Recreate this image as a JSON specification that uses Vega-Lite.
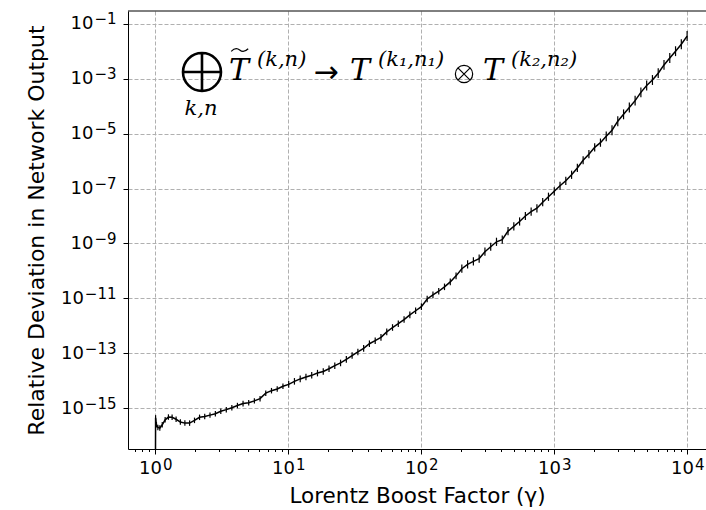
{
  "$schema": "https://vega.github.io/schema/vega-lite/v6.json",
  "width": 578,
  "height": 438,
  "autosize": {"type": "none"},
  "padding": {"left": 128, "top": 11, "right": 0, "bottom": 61},
  "background": "white",
  "config": {"view": {"stroke": null}, "font": "DejaVu Sans"},
  "datasets": {
    "dev": [
      {"gamma": 1, "dev": 1e-19, "lo": 7.9e-20, "hi": 1.26e-19},
      {"gamma": 1.005, "dev": 4.47e-16, "lo": 3.55e-16, "hi": 5.62e-16},
      {"gamma": 1.0201, "dev": 2.51e-16, "lo": 2.0e-16, "hi": 3.16e-16},
      {"gamma": 1.0453, "dev": 2.0e-16, "lo": 1.58e-16, "hi": 2.51e-16},
      {"gamma": 1.0811, "dev": 1.905e-16, "lo": 1.514e-16, "hi": 2.4e-16},
      {"gamma": 1.1276, "dev": 2.51e-16, "lo": 2.0e-16, "hi": 3.16e-16},
      {"gamma": 1.1855, "dev": 3.8e-16, "lo": 3.02e-16, "hi": 4.79e-16},
      {"gamma": 1.2552, "dev": 4.79e-16, "lo": 3.8e-16, "hi": 6.03e-16},
      {"gamma": 1.3374, "dev": 4.68e-16, "lo": 3.72e-16, "hi": 5.89e-16},
      {"gamma": 1.4331, "dev": 3.98e-16, "lo": 3.16e-16, "hi": 5.01e-16},
      {"gamma": 1.5431, "dev": 3.16e-16, "lo": 2.51e-16, "hi": 3.98e-16},
      {"gamma": 1.6685, "dev": 2.88e-16, "lo": 2.29e-16, "hi": 3.63e-16},
      {"gamma": 1.8107, "dev": 2.88e-16, "lo": 2.29e-16, "hi": 3.63e-16},
      {"gamma": 1.9709, "dev": 3.63e-16, "lo": 2.88e-16, "hi": 4.57e-16},
      {"gamma": 2.1509, "dev": 4.68e-16, "lo": 3.72e-16, "hi": 5.89e-16},
      {"gamma": 2.3524, "dev": 5.01e-16, "lo": 3.98e-16, "hi": 6.31e-16},
      {"gamma": 2.5775, "dev": 5.62e-16, "lo": 4.47e-16, "hi": 7.08e-16},
      {"gamma": 2.8283, "dev": 6.31e-16, "lo": 5.01e-16, "hi": 7.94e-16},
      {"gamma": 3.1075, "dev": 7.76e-16, "lo": 6.17e-16, "hi": 9.77e-16},
      {"gamma": 3.4177, "dev": 8.91e-16, "lo": 7.08e-16, "hi": 1.12e-15},
      {"gamma": 3.7622, "dev": 1.047e-15, "lo": 8.32e-16, "hi": 1.32e-15},
      {"gamma": 4.1443, "dev": 1.26e-15, "lo": 1.0e-15, "hi": 1.58e-15},
      {"gamma": 4.5679, "dev": 1.48e-15, "lo": 1.17e-15, "hi": 1.86e-15},
      {"gamma": 5.0372, "dev": 1.58e-15, "lo": 1.26e-15, "hi": 2.0e-15},
      {"gamma": 5.5569, "dev": 1.86e-15, "lo": 1.48e-15, "hi": 2.34e-15},
      {"gamma": 6.1323, "dev": 2.24e-15, "lo": 1.78e-15, "hi": 2.82e-15},
      {"gamma": 6.769, "dev": 3.55e-15, "lo": 2.82e-15, "hi": 4.47e-15},
      {"gamma": 7.4735, "dev": 4.37e-15, "lo": 3.47e-15, "hi": 5.5e-15},
      {"gamma": 8.2527, "dev": 5.01e-15, "lo": 3.98e-15, "hi": 6.31e-15},
      {"gamma": 9.1146, "dev": 6.31e-15, "lo": 5.01e-15, "hi": 7.94e-15},
      {"gamma": 10.068, "dev": 7.41e-15, "lo": 5.62e-15, "hi": 9.77e-15},
      {"gamma": 11.122, "dev": 9.55e-15, "lo": 7.24e-15, "hi": 1.26e-14},
      {"gamma": 12.287, "dev": 1.17e-14, "lo": 8.91e-15, "hi": 1.55e-14},
      {"gamma": 13.575, "dev": 1.38e-14, "lo": 1.05e-14, "hi": 1.82e-14},
      {"gamma": 14.999, "dev": 1.58e-14, "lo": 1.2e-14, "hi": 2.09e-14},
      {"gamma": 16.573, "dev": 1.91e-14, "lo": 1.45e-14, "hi": 2.51e-14},
      {"gamma": 18.313, "dev": 2.19e-14, "lo": 1.66e-14, "hi": 2.88e-14},
      {"gamma": 20.236, "dev": 2.75e-14, "lo": 2.09e-14, "hi": 3.63e-14},
      {"gamma": 22.362, "dev": 3.55e-14, "lo": 2.69e-14, "hi": 4.68e-14},
      {"gamma": 24.711, "dev": 4.47e-14, "lo": 3.39e-14, "hi": 5.89e-14},
      {"gamma": 27.308, "dev": 6.03e-14, "lo": 4.57e-14, "hi": 7.94e-14},
      {"gamma": 30.178, "dev": 8.32e-14, "lo": 6.31e-14, "hi": 1.1e-13},
      {"gamma": 33.351, "dev": 1.12e-13, "lo": 8.51e-14, "hi": 1.48e-13},
      {"gamma": 36.857, "dev": 1.51e-13, "lo": 1.15e-13, "hi": 2.0e-13},
      {"gamma": 40.732, "dev": 2.24e-13, "lo": 1.7e-13, "hi": 2.95e-13},
      {"gamma": 45.014, "dev": 2.88e-13, "lo": 2.19e-13, "hi": 3.8e-13},
      {"gamma": 49.747, "dev": 3.8e-13, "lo": 2.88e-13, "hi": 5.01e-13},
      {"gamma": 54.978, "dev": 6.03e-13, "lo": 4.57e-13, "hi": 7.94e-13},
      {"gamma": 60.759, "dev": 8.71e-13, "lo": 6.61e-13, "hi": 1.15e-12},
      {"gamma": 67.149, "dev": 1.2e-12, "lo": 9.12e-13, "hi": 1.58e-12},
      {"gamma": 74.21, "dev": 1.7e-12, "lo": 1.29e-12, "hi": 2.24e-12},
      {"gamma": 82.014, "dev": 2.51e-12, "lo": 1.91e-12, "hi": 3.31e-12},
      {"gamma": 90.639, "dev": 3.55e-12, "lo": 2.69e-12, "hi": 4.68e-12},
      {"gamma": 100.17, "dev": 5.01e-12, "lo": 3.8e-12, "hi": 6.61e-12},
      {"gamma": 110.7, "dev": 9.55e-12, "lo": 7.24e-12, "hi": 1.26e-11},
      {"gamma": 122.35, "dev": 1.35e-11, "lo": 1.02e-11, "hi": 1.78e-11},
      {"gamma": 135.21, "dev": 1.82e-11, "lo": 1.38e-11, "hi": 2.4e-11},
      {"gamma": 149.43, "dev": 2.63e-11, "lo": 2.0e-11, "hi": 3.47e-11},
      {"gamma": 165.15, "dev": 3.98e-11, "lo": 3.02e-11, "hi": 5.25e-11},
      {"gamma": 182.52, "dev": 6.61e-11, "lo": 5.01e-11, "hi": 8.71e-11},
      {"gamma": 201.72, "dev": 1.2e-10, "lo": 8.51e-11, "hi": 1.7e-10},
      {"gamma": 222.93, "dev": 1.74e-10, "lo": 1.23e-10, "hi": 2.45e-10},
      {"gamma": 246.38, "dev": 2.24e-10, "lo": 1.58e-10, "hi": 3.16e-10},
      {"gamma": 272.29, "dev": 2.82e-10, "lo": 2.0e-10, "hi": 3.98e-10},
      {"gamma": 300.92, "dev": 5.01e-10, "lo": 3.55e-10, "hi": 7.08e-10},
      {"gamma": 332.57, "dev": 7.59e-10, "lo": 5.37e-10, "hi": 1.07e-9},
      {"gamma": 367.55, "dev": 1.15e-9, "lo": 8.13e-10, "hi": 1.62e-9},
      {"gamma": 406.2, "dev": 1.38e-9, "lo": 9.77e-10, "hi": 1.95e-9},
      {"gamma": 448.92, "dev": 2.82e-9, "lo": 2.0e-9, "hi": 3.98e-9},
      {"gamma": 496.14, "dev": 4.17e-9, "lo": 2.95e-9, "hi": 5.89e-9},
      {"gamma": 548.32, "dev": 6.31e-9, "lo": 4.47e-9, "hi": 8.91e-9},
      {"gamma": 605.98, "dev": 1.0e-8, "lo": 7.08e-9, "hi": 1.41e-8},
      {"gamma": 669.72, "dev": 1.45e-8, "lo": 1.02e-8, "hi": 2.04e-8},
      {"gamma": 740.15, "dev": 1.91e-8, "lo": 1.35e-8, "hi": 2.69e-8},
      {"gamma": 817.99, "dev": 3.16e-8, "lo": 2.24e-8, "hi": 4.47e-8},
      {"gamma": 904.02, "dev": 5.01e-8, "lo": 3.55e-8, "hi": 7.08e-8},
      {"gamma": 999.1, "dev": 7.94e-8, "lo": 5.62e-8, "hi": 1.12e-7},
      {"gamma": 1104.2, "dev": 1.26e-7, "lo": 8.91e-8, "hi": 1.78e-7},
      {"gamma": 1220.3, "dev": 1.91e-7, "lo": 1.35e-7, "hi": 2.69e-7},
      {"gamma": 1348.6, "dev": 3.16e-7, "lo": 2.24e-7, "hi": 4.47e-7},
      {"gamma": 1490.5, "dev": 5.62e-7, "lo": 3.98e-7, "hi": 7.94e-7},
      {"gamma": 1647.2, "dev": 1.07e-6, "lo": 7.59e-7, "hi": 1.51e-6},
      {"gamma": 1820.5, "dev": 1.78e-6, "lo": 1.26e-6, "hi": 2.51e-6},
      {"gamma": 2011.9, "dev": 3.16e-6, "lo": 2.24e-6, "hi": 4.47e-6},
      {"gamma": 2223.5, "dev": 4.68e-6, "lo": 3.31e-6, "hi": 6.61e-6},
      {"gamma": 2457.4, "dev": 7.94e-6, "lo": 5.25e-6, "hi": 1.2e-5},
      {"gamma": 2715.8, "dev": 1.32e-5, "lo": 8.71e-6, "hi": 2.0e-5},
      {"gamma": 3001.5, "dev": 2.82e-5, "lo": 1.86e-5, "hi": 4.27e-5},
      {"gamma": 3317.1, "dev": 5.01e-5, "lo": 3.31e-5, "hi": 7.59e-5},
      {"gamma": 3666.0, "dev": 8.91e-5, "lo": 5.89e-5, "hi": 1.35e-4},
      {"gamma": 4051.5, "dev": 1.58e-4, "lo": 1.05e-4, "hi": 2.4e-4},
      {"gamma": 4477.6, "dev": 3.16e-4, "lo": 2.09e-4, "hi": 4.79e-4},
      {"gamma": 4948.6, "dev": 5.62e-4, "lo": 3.72e-4, "hi": 8.51e-4},
      {"gamma": 5469.0, "dev": 8.91e-4, "lo": 5.89e-4, "hi": 1.35e-3},
      {"gamma": 6044.2, "dev": 1.58e-3, "lo": 1.05e-3, "hi": 2.4e-3},
      {"gamma": 6679.9, "dev": 3.16e-3, "lo": 2.09e-3, "hi": 4.79e-3},
      {"gamma": 7382.4, "dev": 5.62e-3, "lo": 3.72e-3, "hi": 8.51e-3},
      {"gamma": 8158.8, "dev": 1.0e-2, "lo": 6.61e-3, "hi": 1.51e-2},
      {"gamma": 9016.9, "dev": 1.78e-2, "lo": 1.17e-2, "hi": 2.69e-2},
      {"gamma": 9965.2, "dev": 3.55e-2, "lo": 2.34e-2, "hi": 5.37e-2}
    ]
  },
  "data": {"name": "dev"},
  "resolve": {"axis": {"x": "independent", "y": "independent"}},
  "layer": [
    {
      "mark": {"type": "rule", "color": "black", "strokeWidth": 1.2, "clip": true},
      "encoding": {
        "x": {
          "field": "gamma", "type": "quantitative", "title": "Lorentz Boost Factor (γ)",
          "scale": {"type": "log", "domain": [0.6233, 13823], "nice": false, "zero": false},
          "axis": {
            "orient": "bottom",
            "values": [0.7, 0.8, 0.9, 1, 2, 3, 4, 5, 6, 7, 8, 9, 10, 20, 30, 40, 50, 60, 70, 80, 90, 100, 200, 300, 400, 500, 600, 700, 800, 900, 1000, 2000, 3000, 4000, 5000, 6000, 7000, 8000, 9000, 10000],
            "labelExpr": "abs(log(datum.value)/LN10 - round(log(datum.value)/LN10)) < 0.001 ? '10' : ''",
            "labelOverlap": false, "labelFlush": false, "labelBound": false,
            "labelFont": "DejaVu Sans", "labelFontSize": 18, "labelColor": "black", "labelPadding": 5, "labelOffset": -5.25,
            "tickColor": "black", "tickWidth": 1,
            "tickSize": {"condition": {"test": "abs(log(datum.value)/LN10 - round(log(datum.value)/LN10)) < 0.001", "value": 5}, "value": 2.5},
            "grid": true, "gridColor": "#b0b0b0", "gridDash": [4, 2], "gridWidth": 1,
            "gridOpacity": {"condition": {"test": "abs(log(datum.value)/LN10 - round(log(datum.value)/LN10)) < 0.001", "value": 1}, "value": 0},
            "domainColor": "black", "domainWidth": 1,
            "titleFont": "DejaVu Sans", "titleFontSize": 21.5, "titleFontWeight": "normal", "titleColor": "black", "titlePadding": 8
          }
        },
        "y": {
          "field": "lo", "type": "quantitative", "title": "Relative Deviation in Network Output",
          "scale": {"type": "log", "domain": [3.29e-17, 0.29], "nice": false, "zero": false},
          "axis": {
            "orient": "left",
            "values": [0.1, 0.001, 1e-5, 1e-7, 1e-9, 1e-11, 1e-13, 1e-15],
            "labelExpr": "'10'",
            "labelOverlap": false, "labelFlush": false, "labelBound": false,
            "labelFont": "DejaVu Sans", "labelFontSize": 18, "labelColor": "black",
            "labelPadding": {"condition": {"test": "datum.value > 1e-10", "value": 30}, "value": 39.5},
            "tickColor": "black", "tickWidth": 1, "tickSize": 5,
            "grid": true, "gridColor": "#b0b0b0", "gridDash": [4, 2], "gridWidth": 1,
            "domainColor": "black", "domainWidth": 1,
            "titleFont": "DejaVu Sans", "titleFontSize": 22, "titleFontWeight": "normal", "titleColor": "black", "titlePadding": 12
          }
        },
        "y2": {"field": "hi"}
      }
    },
    {
      "mark": {"type": "line", "color": "black", "strokeWidth": 1.5, "clip": true},
      "encoding": {
        "x": {
          "field": "gamma", "type": "quantitative",
          "axis": {
            "orient": "bottom", "title": null,
            "values": [1, 10, 100, 1000, 10000],
            "labelExpr": "'' + round(log(datum.value)/LN10)",
            "labelOverlap": false, "labelFlush": false, "labelBound": false,
            "labelFont": "DejaVu Sans", "labelFontSize": 15, "labelColor": "black", "labelPadding": 8, "labelOffset": 12,
            "ticks": false, "tickSize": 0, "grid": false, "domain": false
          }
        },
        "y": {
          "field": "dev", "type": "quantitative",
          "axis": {
            "orient": "left", "title": null,
            "values": [0.1, 0.001, 1e-5, 1e-7, 1e-9, 1e-11, 1e-13, 1e-15],
            "labelExpr": "'−' + round(-log(datum.value)/LN10)",
            "labelOverlap": false, "labelFlush": false, "labelBound": false,
            "labelFont": "DejaVu Sans", "labelFontSize": 15, "labelColor": "black", "labelPadding": 12, "labelOffset": -5,
            "ticks": false, "tickSize": 0, "grid": false, "domain": false
          }
        }
      }
    },
    {
      "data": {"values": [{}]},
      "mark": {"type": "rule", "color": "black", "strokeWidth": 1},
      "encoding": {"y": {"datum": 0.29, "type": "quantitative", "axis": null}}
    },
    {
      "data": {"values": [{}]},
      "mark": {"type": "point", "shape": "M -1 0 A 1 1 0 1 0 1 0 A 1 1 0 1 0 -1 0 M -1 0 L 1 0 M 0 -1 L 0 1", "size": 1444, "filled": false, "stroke": "black", "strokeWidth": 2.6, "opacity": 1},
      "encoding": {"x": {"datum": 2.244, "type": "quantitative", "axis": null}, "y": {"datum": 0.001742, "type": "quantitative", "axis": null}}
    },
    {
      "data": {"values": [{}]},
      "mark": {"type": "text", "text": "k,n", "font": "DejaVu Serif", "fontStyle": "italic", "fontSize": 21, "align": "center", "baseline": "alphabetic", "color": "black"},
      "encoding": {"x": {"datum": 2.206, "type": "quantitative", "axis": null}, "y": {"datum": 4.74e-5, "type": "quantitative", "axis": null}}
    },
    {
      "data": {"values": [{}]},
      "mark": {"type": "text", "text": "T", "font": "DejaVu Serif", "fontStyle": "italic", "fontSize": 30, "align": "left", "baseline": "alphabetic", "color": "black"},
      "encoding": {"x": {"datum": 3.581, "type": "quantitative", "axis": null}, "y": {"datum": 8.91e-4, "type": "quantitative", "axis": null}}
    },
    {
      "data": {"values": [{}]},
      "mark": {"type": "point", "shape": "M -1 0.15 C -0.6 -0.25 -0.3 -0.25 0 0 C 0.3 0.25 0.6 0.25 1 -0.15", "size": 289, "filled": false, "stroke": "black", "strokeWidth": 1.2, "opacity": 1},
      "encoding": {"x": {"datum": 4.31, "type": "quantitative", "axis": null}, "y": {"datum": 0.011, "type": "quantitative", "axis": null}}
    },
    {
      "data": {"values": [{}]},
      "mark": {"type": "text", "text": "(k,n)", "font": "DejaVu Serif", "fontStyle": "italic", "fontSize": 21, "align": "left", "baseline": "alphabetic", "color": "black"},
      "encoding": {"x": {"datum": 5.817, "type": "quantitative", "axis": null}, "y": {"datum": 2.88e-3, "type": "quantitative", "axis": null}}
    },
    {
      "data": {"values": [{}]},
      "mark": {"type": "text", "text": "→", "font": "DejaVu Sans", "fontSize": 30, "align": "center", "baseline": "middle", "color": "black"},
      "encoding": {"x": {"datum": 19.21, "type": "quantitative", "axis": null}, "y": {"datum": 1.6e-3, "type": "quantitative", "axis": null}}
    },
    {
      "data": {"values": [{}]},
      "mark": {"type": "text", "text": "T", "font": "DejaVu Serif", "fontStyle": "italic", "fontSize": 30, "align": "left", "baseline": "alphabetic", "color": "black"},
      "encoding": {"x": {"datum": 29.1, "type": "quantitative", "axis": null}, "y": {"datum": 8.91e-4, "type": "quantitative", "axis": null}}
    },
    {
      "data": {"values": [{}]},
      "mark": {"type": "text", "text": "(k₁,n₁)", "font": "DejaVu Serif", "fontStyle": "italic", "fontSize": 21, "align": "left", "baseline": "alphabetic", "color": "black"},
      "encoding": {"x": {"datum": 47.25, "type": "quantitative", "axis": null}, "y": {"datum": 2.88e-3, "type": "quantitative", "axis": null}}
    },
    {
      "data": {"values": [{}]},
      "mark": {"type": "point", "shape": "M -1 0 A 1 1 0 1 0 1 0 A 1 1 0 1 0 -1 0 M -0.707 -0.707 L 0.707 0.707 M -0.707 0.707 L 0.707 -0.707", "size": 300, "filled": false, "stroke": "black", "strokeWidth": 1.2, "opacity": 1},
      "encoding": {"x": {"datum": 209.5, "type": "quantitative", "axis": null}, "y": {"datum": 1.47e-3, "type": "quantitative", "axis": null}}
    },
    {
      "data": {"values": [{}]},
      "mark": {"type": "text", "text": "T", "font": "DejaVu Serif", "fontStyle": "italic", "fontSize": 30, "align": "left", "baseline": "alphabetic", "color": "black"},
      "encoding": {"x": {"datum": 291, "type": "quantitative", "axis": null}, "y": {"datum": 8.91e-4, "type": "quantitative", "axis": null}}
    },
    {
      "data": {"values": [{}]},
      "mark": {"type": "text", "text": "(k₂,n₂)", "font": "DejaVu Serif", "fontStyle": "italic", "fontSize": 21, "align": "left", "baseline": "alphabetic", "color": "black"},
      "encoding": {"x": {"datum": 472.5, "type": "quantitative", "axis": null}, "y": {"datum": 2.88e-3, "type": "quantitative", "axis": null}}
    }
  ]
}
